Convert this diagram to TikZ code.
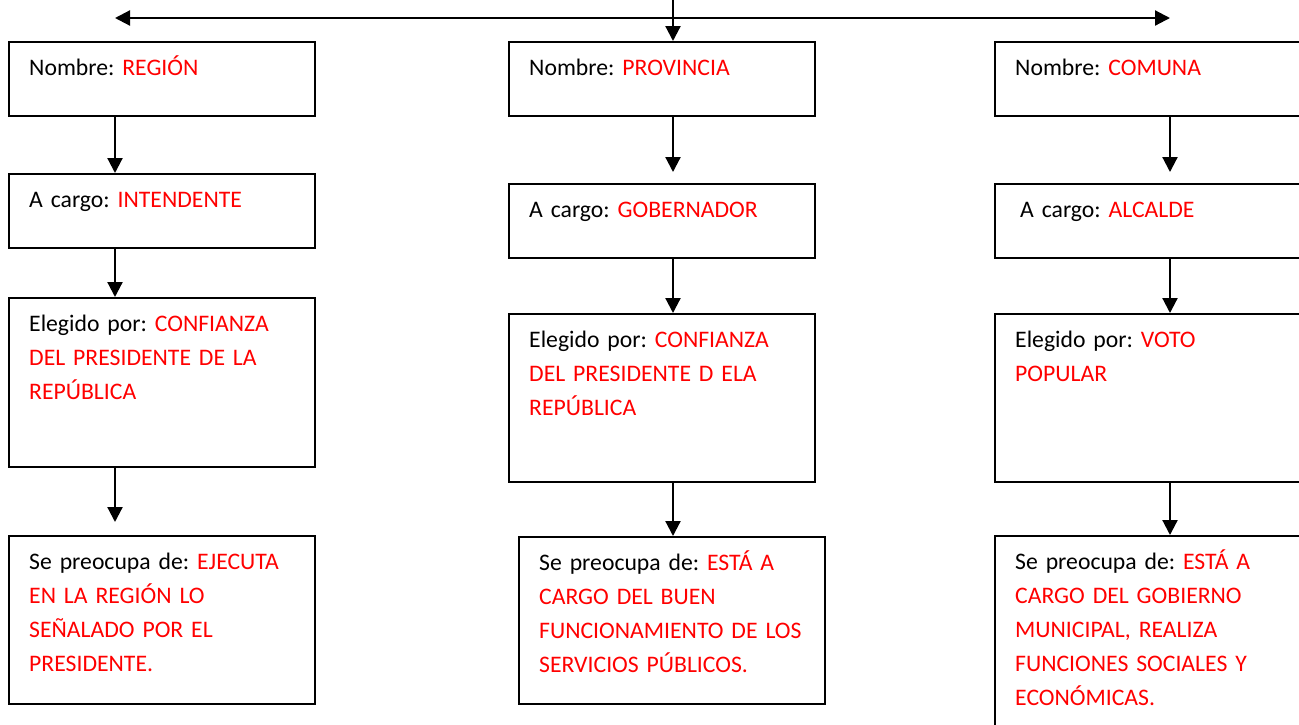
\documentclass[tikz,border=0pt]{standalone}
\usepackage{fontspec}
\setmainfont{Carlito}[WordSpace={1,0,0}]
\usetikzlibrary{arrows.meta}

\newcommand{\rojo}[1]{\textcolor{red}{#1}}
\frenchspacing

\begin{document}
\begin{tikzpicture}[x=1pt, y=-1pt,
	caja/.style={draw, line width=2pt, minimum width=306pt, inner sep=0pt},
	texto/.style={anchor=base west, align=left, text width=285pt, inner sep=0pt, font=\fontsize{23.7}{34}\selectfont},
	flecha/.style={line width=2.2pt, -{Triangle[length=15pt,width=15pt]}}]
	
	\clip (0,0) rectangle (1299,724);
	
	% Columns of the arrows
	\coordinate (regx) at (115,0);
	\coordinate (provx) at (673,0);
	\coordinate (comx) at (1170,0);
	
	% Draw region boxes
	\node[caja, minimum height=74pt] (reg1) at (162,79) {};
	\node[caja, minimum height=74pt] (reg2) at (162,211) {};
	\node[caja, minimum height=169pt] (reg3) at (162,382.5) {};
	\node[caja, minimum height=168pt] (reg4) at (162,620) {};
	
	% Draw province boxes
	\node[caja, minimum height=74pt] (prov1) at (662,79) {};
	\node[caja, minimum height=74pt] (prov2) at (662,221) {};
	\node[caja, minimum height=168pt] (prov3) at (662,398) {};
	\node[caja, minimum height=167pt] (prov4) at (672,620.5) {};
	
	% Draw commune boxes
	\node[caja, minimum height=74pt] (com1) at (1148,79) {};
	\node[caja, minimum height=74pt] (com2) at (1148,221) {};
	\node[caja, minimum height=168pt] (com3) at (1148,398) {};
	\node[caja, minimum height=200pt] (com4) at (1148,636) {};
	
	% Label region boxes
	\node[texto] (reg1t) at ([shift={(21,34)}]reg1.north west) {Nombre: \rojo{REGIÓN}};
	\node[texto] (reg2t) at ([shift={(21,34)}]reg2.north west) {A cargo: \rojo{INTENDENTE}};
	\node[texto] (reg3t) at ([shift={(21,34)}]reg3.north west) {Elegido por: \rojo{CONFIANZA}\\\rojo{DEL PRESIDENTE DE LA}\\\rojo{REPÚBLICA}};
	\node[texto] (reg4t) at ([shift={(21,34)}]reg4.north west) {Se preocupa de: \rojo{EJECUTA}\\\rojo{EN LA REGIÓN LO}\\\rojo{SEÑALADO POR EL}\\\rojo{PRESIDENTE.}};
	
	% Label province boxes
	\node[texto] (prov1t) at ([shift={(21,34)}]prov1.north west) {Nombre: \rojo{PROVINCIA}};
	\node[texto] (prov2t) at ([shift={(21,34)}]prov2.north west) {A cargo: \rojo{GOBERNADOR}};
	\node[texto] (prov3t) at ([shift={(21,34)}]prov3.north west) {Elegido por: \rojo{CONFIANZA}\\\rojo{DEL PRESIDENTE D ELA}\\\rojo{REPÚBLICA}};
	\node[texto] (prov4t) at ([shift={(21,34)}]prov4.north west) {Se preocupa de: \rojo{ESTÁ A}\\\rojo{CARGO DEL BUEN}\\\rojo{FUNCIONAMIENTO DE LOS}\\\rojo{SERVICIOS PÚBLICOS.}};
	
	% Label commune boxes
	\node[texto] (com1t) at ([shift={(21,34)}]com1.north west) {Nombre: \rojo{COMUNA}};
	\node[texto] (com2t) at ([shift={(26,34)}]com2.north west) {A cargo: \rojo{ALCALDE}};
	\node[texto] (com3t) at ([shift={(21,34)}]com3.north west) {Elegido por: \rojo{VOTO}\\\rojo{POPULAR}};
	\node[texto] (com4t) at ([shift={(21,34)}]com4.north west) {Se preocupa de: \rojo{ESTÁ A}\\\rojo{CARGO DEL GOBIERNO}\\\rojo{MUNICIPAL, REALIZA}\\\rojo{FUNCIONES SOCIALES Y}\\\rojo{ECONÓMICAS.}};
	
	% Top arrows
	\coordinate (izq) at (115,18);
	\coordinate (der) at (1170,18);
	\coordinate (arriba) at (673,-5);
	\draw[line width=2.2pt, {Triangle[length=15pt,width=15pt]}-{Triangle[length=15pt,width=15pt]}] (izq) -- (der);
	\draw[flecha] (arriba) -- (prov1.north -| provx);
	
	% Region arrows
	\draw[flecha] (reg1.south -| regx) -- (reg2.north -| regx);
	\draw[flecha] (reg2.south -| regx) -- (reg3.north -| regx);
	\draw[flecha, shorten >=13pt] (reg3.south -| regx) -- (reg4.north -| regx);
	
	% Province arrows
	\draw[flecha, shorten >=11pt] (prov1.south -| provx) -- (prov2.north -| provx);
	\draw[flecha] (prov2.south -| provx) -- (prov3.north -| provx);
	\draw[flecha] (prov3.south -| provx) -- (prov4.north -| provx);
	
	% Commune arrows
	\draw[flecha, shorten >=11pt] (com1.south -| comx) -- (com2.north -| comx);
	\draw[flecha] (com2.south -| comx) -- (com3.north -| comx);
	\draw[flecha] (com3.south -| comx) -- (com4.north -| comx);
	
\end{tikzpicture}
\end{document}
